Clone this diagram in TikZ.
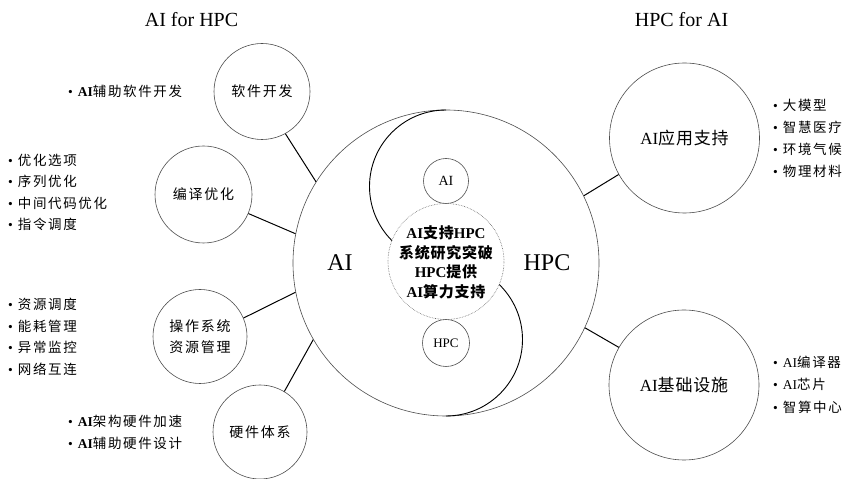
\documentclass[tikz,border=0pt]{standalone}
\usepackage{fontspec}
\setmainfont{Liberation Serif}
\newfontfamily\cjk[LetterSpace=12]{Noto Sans CJK SC}
\newfontfamily\cjkn[LetterSpace=5]{Noto Sans CJK SC}
\newcommand{\zh}[1]{{\cjk #1}}
\newcommand{\zhn}[1]{{\cjkn #1}}
\newcommand{\bul}{\textbullet\hspace{5pt}}
\begin{document}
\begin{tikzpicture}[x=1pt,y=1pt,
  ring/.style={circle,draw=black!70,line width=0.6pt,inner sep=0pt,align=center},
  link/.style={draw=black,line width=1pt},
  yy/.style={draw=black,line width=0.9pt},
  lbl/.style={font=\fontsize{14}{21}\selectfont},
  big/.style={font=\fontsize{17}{20}\selectfont},
  lst/.style={anchor=west,align=left,inner sep=0pt,font=\fontsize{13.5}{21.5}\selectfont}]
\useasboundingbox (0,0) rectangle (852,479);

% main circle and yin-yang
\node[ring,minimum size=306] (main) at (446,216) {};
\draw[yy] (446,369) arc[start angle=90,end angle=225,radius=76.5];
\draw[yy] (446,63) arc[start angle=-90,end angle=46,radius=76.5];
\node[ring,minimum size=45,font=\fontsize{14}{16}\selectfont] (ai) at (446,298) {AI};
\node[ring,minimum size=47,font=\fontsize{13}{16}\selectfont] (hpc) at (446,136) {HPC};
\node[circle,draw=black!60,densely dotted,line width=0.6pt,minimum size=116,inner sep=0pt] (core) at (446,217.5) {};
\node[align=center,font=\bfseries\fontsize{15}{19.5}\selectfont] (coretext) at (446,216.5)
  {AI\zhn{支持}HPC\\\zhn{系统研究突破}\\HPC\zhn{提供}\\AI\zhn{算力支持}};
\node[font=\fontsize{24}{26}\selectfont] (lai) at (340,216) {AI};
\node[font=\fontsize{24}{26}\selectfont] (lhpc) at (547,216) {HPC};

% titles
\node[font=\fontsize{20}{22}\selectfont] (t1) at (191.5,459) {AI for HPC};
\node[font=\fontsize{20}{22}\selectfont] (t2) at (681.5,459) {HPC for AI};

% outer circles
\node[ring,lbl,minimum size=96] (sw) at (262,387.5) {\zh{软件开发}};
\node[ring,lbl,minimum size=97] (by) at (203.5,284.5) {\zh{编译优化}};
\node[ring,lbl,minimum size=94] (os) at (200,142.5) {\zh{操作系统}\\\zh{资源管理}};
\node[ring,lbl,minimum size=94] (hw) at (260,47) {\zh{硬件体系}};
\node[ring,big,minimum size=150] (app) at (684.5,341) {AI\zhn{应用支持}};
\node[ring,big,minimum size=150] (infra) at (684,94) {AI\zhn{基础设施}};

% connectors
\draw[link] (sw.-61) -- (main.148.6);
\draw[link] (by.-23.7) -- (main.169);
\draw[link] (os.23.6) -- (main.191);
\draw[link] (hw.59.4) -- (main.210);
\draw[link] (app.209.6) -- (main.26);
\draw[link] (infra.150.4) -- (main.-25.4);

% lists
\node[lst] (l1) at (68,388) {\bul\textbf{AI}\zh{辅助软件开发}};
\node[lst] (l2) at (8,286.5) {\bul\zh{优化选项}\\\bul\zh{序列优化}\\\bul\zh{中间代码优化}\\\bul\zh{指令调度}};
\node[lst] (l3) at (8,142) {\bul\zh{资源调度}\\\bul\zh{能耗管理}\\\bul\zh{异常监控}\\\bul\zh{网络互连}};
\node[lst] (l4) at (68,46.5) {\bul\textbf{AI}\zh{架构硬件加速}\\\bul\textbf{AI}\zh{辅助硬件设计}};
\node[lst,font=\fontsize{13.5}{22}\selectfont] (r1) at (773,340.5) {\bul\zh{大模型}\\\bul\zh{智慧医疗}\\\bul\zh{环境气候}\\\bul\zh{物理材料}};
\node[lst,font=\fontsize{13.5}{22.5}\selectfont] (r2) at (773,94.5) {\bul AI\zh{编译器}\\\bul AI\zh{芯片}\\\bul\zh{智算中心}};
\end{tikzpicture}
\end{document}
